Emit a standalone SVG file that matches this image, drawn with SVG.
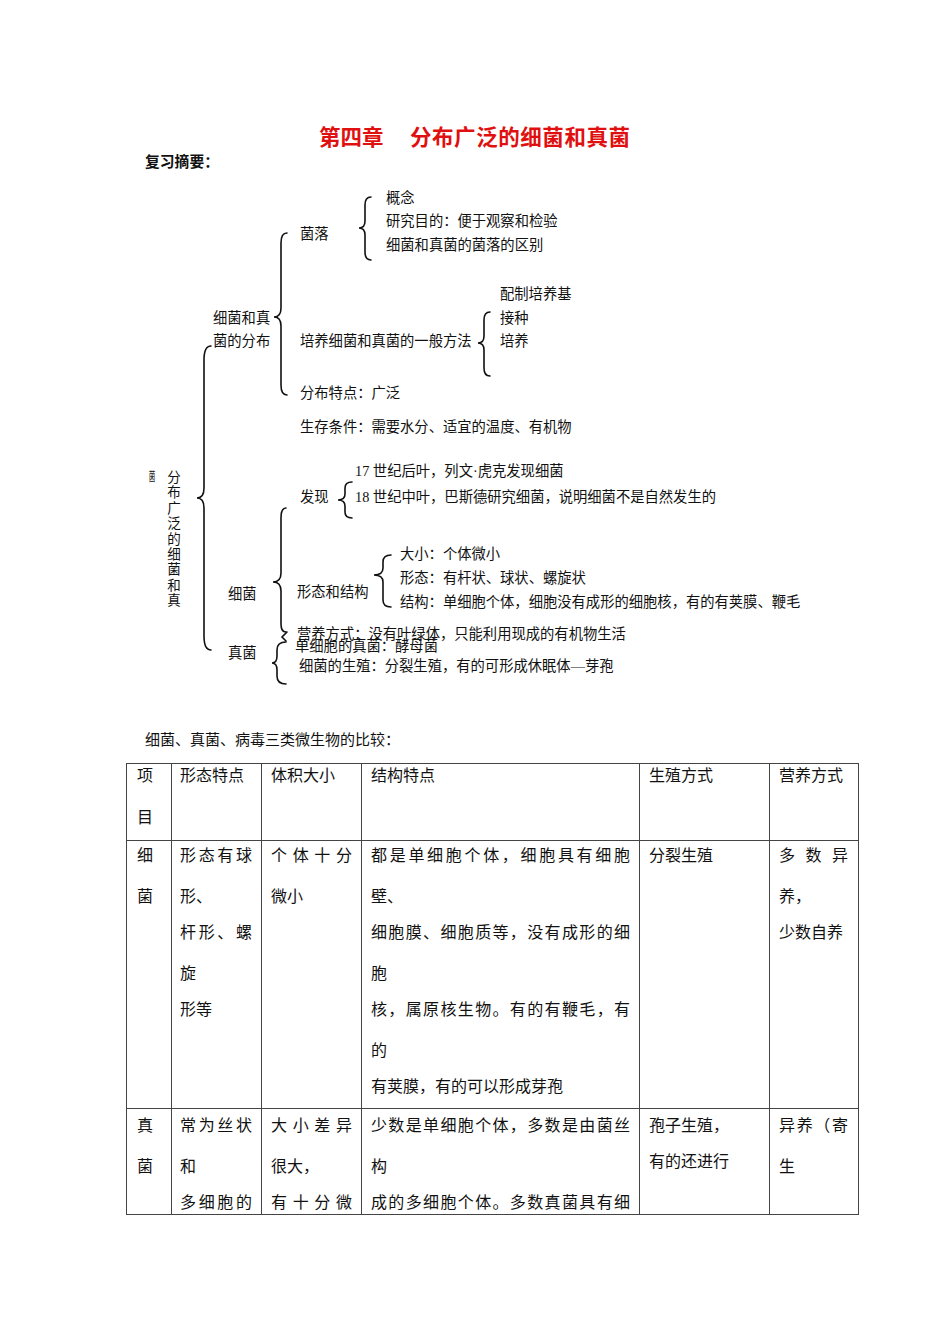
<svg xmlns="http://www.w3.org/2000/svg" width="950" height="1344" viewBox="0 0 950 1344">
<style>
text{font-family:"Liberation Serif","Noto Sans CJK SC",sans-serif;fill:#111;}
.t{font-size:14.3px;}
.tb{font-size:16px;}
.br{fill:none;stroke:#111;stroke-width:1.6;stroke-linecap:round;}
.grid{stroke:#444;stroke-width:1;fill:none;}
</style>
<rect width="950" height="1344" fill="#fff"/>
<g id="title">
<text x="319" y="145" style="font-size:21.5px;font-weight:bold;fill:#e01010;font-family:'Noto Sans CJK SC',sans-serif">第四章</text>
<text x="410" y="145" textLength="220" style="font-size:21.5px;font-weight:bold;fill:#e01010;font-family:'Noto Sans CJK SC',sans-serif">分布广泛的细菌和真菌</text>
<text x="145" y="167" style="font-size:14.8px;font-weight:bold;font-family:'Noto Sans CJK SC',sans-serif">复习摘要：</text>
</g>
<g id="connectors">
<path class="br" d="M371 197 Q365 197 365 205 L365 221 Q365 228 359 228 Q365 228 365 235 L365 252 Q365 260 371 260"/>
<path class="br" d="M287 233 Q281 233 281 243 L281 308 Q281 317 274 317 Q281 317 281 326 L281 385 Q281 395 287 395"/>
<path class="br" d="M490 312 Q484 312 484 320 L484 336 Q484 343 478 343 Q484 343 484 350 L484 368 Q484 376 490 376"/>
<path class="br" d="M211 346 Q204 346 204 360 L204 488 Q204 498 197 498 Q204 498 204 508 L204 636 Q204 650 211 650"/>
<path class="br" d="M352 482 Q345 482 345 488 L345 494 Q345 500 338 500 Q345 500 345 506 L345 512 Q345 518 352 518"/>
<path class="br" d="M286 508 Q281 508 281 518 L281 573 Q281 582 273 582 Q281 582 281 591 L281 624 Q281 632 286 632"/>
<path class="br" d="M391 555 Q383 555 383 562 L383 568 Q383 575 374 575 Q383 575 383 582 L383 600 Q383 607 391 607"/>
<path class="br" d="M287 632 L282 637 L286 641"/>
<path class="br" d="M286 642 Q277 642 277 650 L277 656 Q277 663 272 663 Q277 663 277 670 L277 676 Q277 684 286 684"/>
</g>
<g id="root">
<text class="t" text-anchor="middle" style="font-size:13.5px"><tspan x="174" y="482">分</tspan><tspan x="174" dy="15.4">布</tspan><tspan x="174" dy="15.4">广</tspan><tspan x="174" dy="15.4">泛</tspan><tspan x="174" dy="15.4">的</tspan><tspan x="174" dy="15.4">细</tspan><tspan x="174" dy="15.4">菌</tspan><tspan x="174" dy="15.4">和</tspan><tspan x="174" dy="15.4">真</tspan></text>
<text transform="translate(152 481) scale(0.55 1)" text-anchor="middle" style="font-size:12px">菌</text>
</g>
<g id="n-distribution">
<text class="t" x="213" y="323">细菌和真</text>
<text class="t" x="213" y="346">菌的分布</text>
</g>
<g id="n-colony">
<text class="t" x="300" y="239">菌落</text>
<text class="t" x="386" y="203">概念</text>
<text class="t" x="386" y="226">研究目的：便于观察和检验</text>
<text class="t" x="386" y="250">细菌和真菌的菌落的区别</text>
</g>
<g id="n-method">
<text class="t" x="300" y="346">培养细菌和真菌的一般方法</text>
<text class="t" x="500" y="299">配制培养基</text>
<text class="t" x="500" y="323">接种</text>
<text class="t" x="500" y="346">培养</text>
</g>
<g id="n-feature">
<text class="t" x="300" y="398">分布特点：广泛</text>
<text class="t" x="300" y="432">生存条件：需要水分、适宜的温度、有机物</text>
</g>
<g id="n-discovery">
<text class="t" x="300" y="502">发现</text>
<text class="t" x="355" y="476">17 世纪后叶，列文·虎克发现细菌</text>
<text class="t" x="355" y="502">18 世纪中叶，巴斯德研究细菌，说明细菌不是自然发生的</text>
</g>
<g id="n-bacteria">
<text class="t" x="228" y="599">细菌</text>
<text class="t" x="297" y="597">形态和结构</text>
<text class="t" x="400" y="559">大小：个体微小</text>
<text class="t" x="400" y="583">形态：有杆状、球状、螺旋状</text>
<text class="t" x="400" y="607">结构：单细胞个体，细胞没有成形的细胞核，有的有荚膜、鞭毛</text>
<text class="t" x="297" y="639">营养方式：没有叶绿体，只能利用现成的有机物生活</text>
</g>
<g id="n-fungi">
<text class="t" x="228" y="658">真菌</text>
<text class="t" x="295" y="651">单细胞的真菌：酵母菌</text>
<text class="t" x="299" y="671">细菌的生殖：分裂生殖，有的可形成休眠体—芽孢</text>
</g>
<g id="comparison-table">
<text class="t" x="145" y="745" style="font-size:15px">细菌、真菌、病毒三类微生物的比较：</text>
<rect class="grid" x="126.5" y="763.5" width="732" height="451"/>
<path class="grid" d="M126 840.5H859M126 1108.5H859M171.5 763V1215M261.5 763V1215M361.5 763V1215M639.5 763V1215M769.5 763V1215"/>
<g class="tb">
<text class="tb" x="137" y="781">项</text>
<text class="tb" x="137" y="823">目</text>
<text class="tb" x="180" y="781">形态特点</text>
<text class="tb" x="271" y="781">体积大小</text>
<text class="tb" x="371" y="781">结构特点</text>
<text class="tb" x="649" y="781">生殖方式</text>
<text class="tb" x="779" y="781">营养方式</text>

<text class="tb" x="137" y="861">细</text>
<text class="tb" x="137" y="902">菌</text>
<text class="tb" x="180" y="861" textLength="72" lengthAdjust="spacing">形态有球</text>
<text class="tb" x="180" y="902">形、</text>
<text class="tb" x="180" y="938" textLength="72" lengthAdjust="spacing">杆形、螺</text>
<text class="tb" x="180" y="979">旋</text>
<text class="tb" x="180" y="1015">形等</text>
<text class="tb" x="271" y="861" textLength="81" lengthAdjust="spacing">个体十分</text>
<text class="tb" x="271" y="902">微小</text>
<text class="tb" x="371" y="861" textLength="259" lengthAdjust="spacing">都是单细胞个体，细胞具有细胞</text>
<text class="tb" x="371" y="902">壁、</text>
<text class="tb" x="371" y="938" textLength="259" lengthAdjust="spacing">细胞膜、细胞质等，没有成形的细</text>
<text class="tb" x="371" y="979">胞</text>
<text class="tb" x="371" y="1015" textLength="259" lengthAdjust="spacing">核，属原核生物。有的有鞭毛，有</text>
<text class="tb" x="371" y="1056">的</text>
<text class="tb" x="371" y="1092">有荚膜，有的可以形成芽孢</text>
<text class="tb" x="649" y="861">分裂生殖</text>
<text class="tb" x="779" y="861" textLength="69" lengthAdjust="spacing">多数异</text>
<text class="tb" x="779" y="902">养，</text>
<text class="tb" x="779" y="938">少数自养</text>

<text class="tb" x="137" y="1131">真</text>
<text class="tb" x="137" y="1172">菌</text>
<text class="tb" x="180" y="1131" textLength="72" lengthAdjust="spacing">常为丝状</text>
<text class="tb" x="180" y="1172">和</text>
<text class="tb" x="180" y="1208" textLength="72" lengthAdjust="spacing">多细胞的</text>
<text class="tb" x="271" y="1131" textLength="81" lengthAdjust="spacing">大小差异</text>
<text class="tb" x="271" y="1172">很大，</text>
<text class="tb" x="271" y="1208" textLength="81" lengthAdjust="spacing">有十分微</text>
<text class="tb" x="371" y="1131" textLength="259" lengthAdjust="spacing">少数是单细胞个体，多数是由菌丝</text>
<text class="tb" x="371" y="1172">构</text>
<text class="tb" x="371" y="1208" textLength="259" lengthAdjust="spacing">成的多细胞个体。多数真菌具有细</text>
<text class="tb" x="649" y="1131">孢子生殖，</text>
<text class="tb" x="649" y="1167">有的还进行</text>
<text class="tb" x="779" y="1131" textLength="69" lengthAdjust="spacing">异养（寄</text>
<text class="tb" x="779" y="1172">生</text>
</g>
</g>
</svg>
